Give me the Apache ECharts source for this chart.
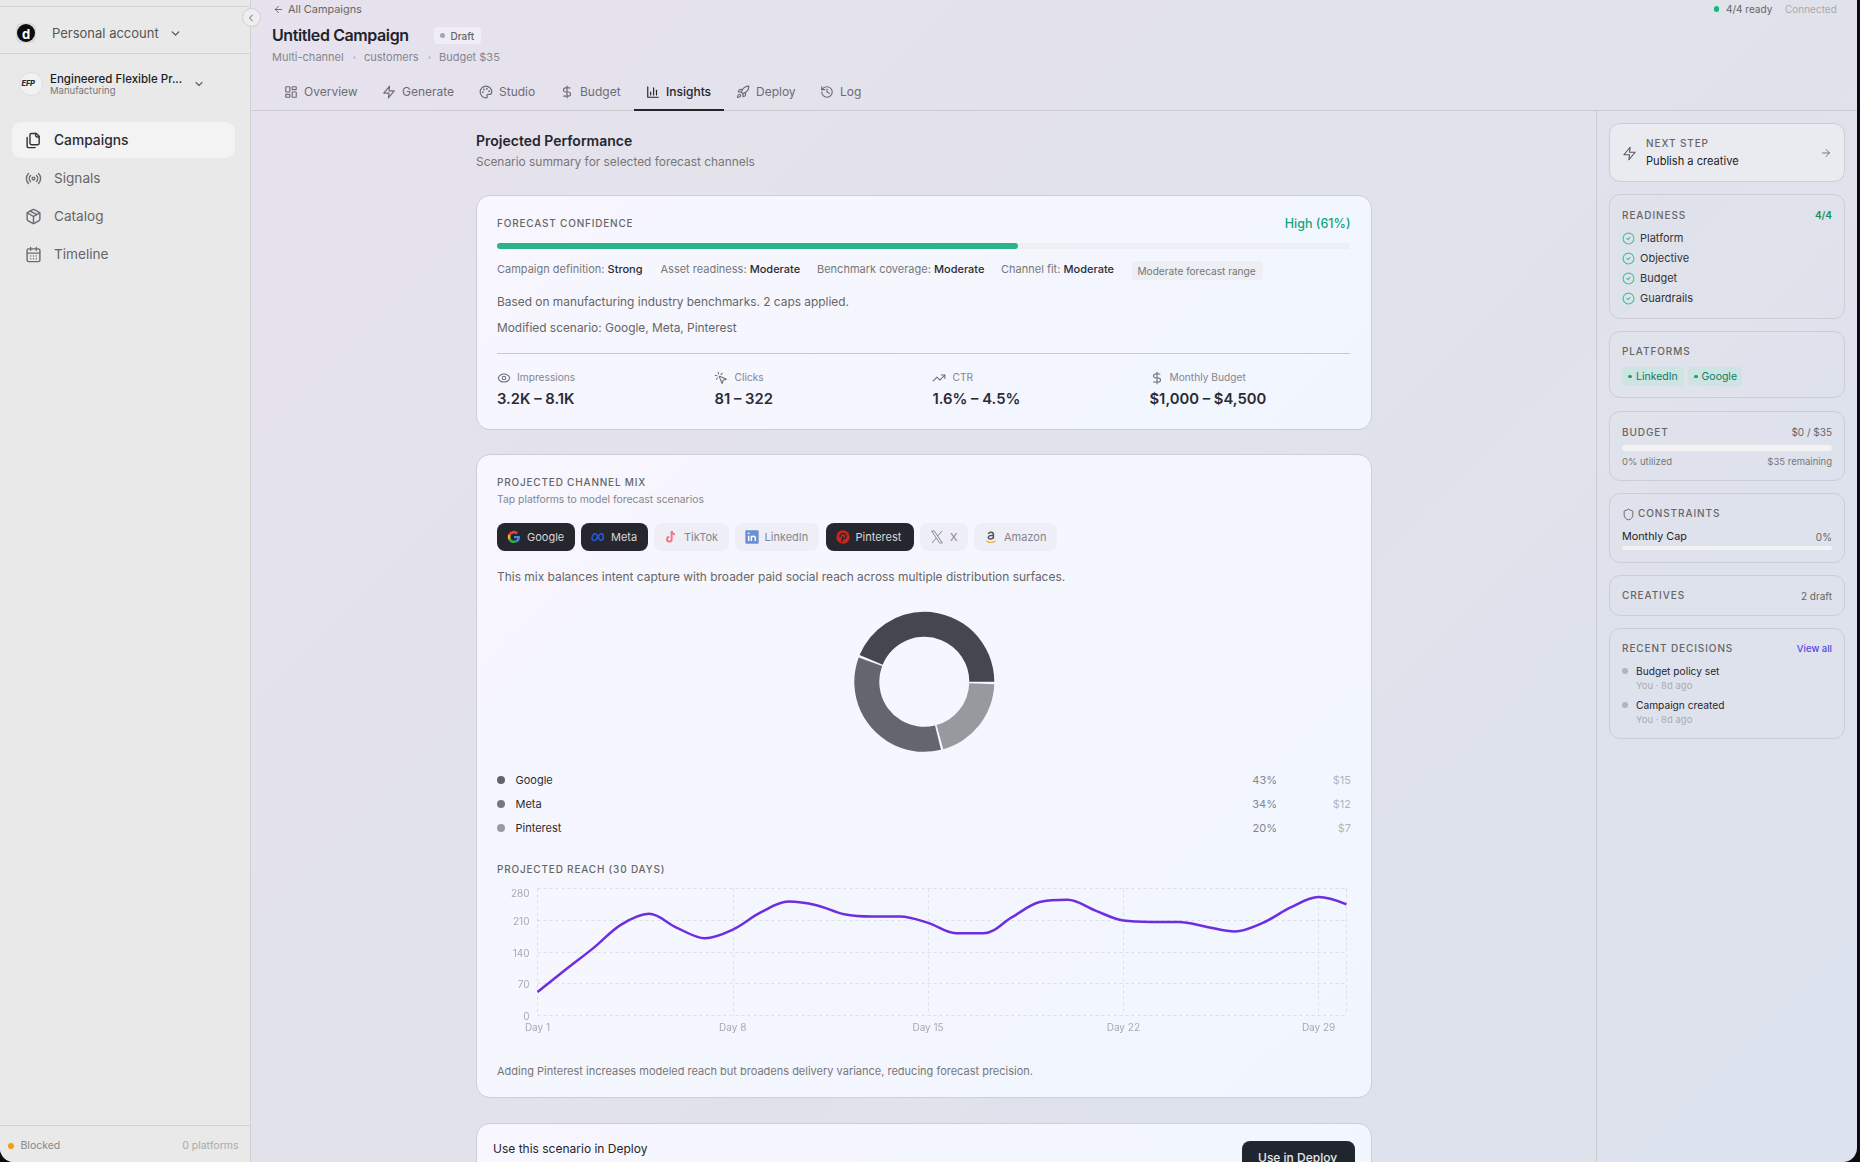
<!DOCTYPE html>
<html>
<head>
<meta charset="utf-8">
<title>Insights</title>
<script src="https://cdn.jsdelivr.net/npm/echarts@6/dist/echarts.min.js"></script>
<style>
html, body { margin: 0; width: 1860px; height: 1162px; background: #0c0c0e; overflow: hidden; }
body { font-family: Inter, "Noto Sans", sans-serif; }
#app { position: absolute; left: 0; top: 0; width: 1857px; height: 1162px; overflow: hidden; border-radius: 0 0 14px 14px; background: linear-gradient(135deg, #e8e2ef 0%, #e2e2ea 45%, #dce2ee 100%); }
#app div, #app svg { position: absolute; }
.t { white-space: nowrap; line-height: 1; transform: translateY(-50%); font-size: 11px; color: #666; }
.r { text-align: right; }
.cap { font-size: 10px; font-weight: 500; letter-spacing: .8px; color: #666; }
.b { color: #2b2b33; font-weight: 500; }
.card { box-sizing: border-box; left: 476px; width: 896px; border: 1px solid #cdced8; border-radius: 14px; background: linear-gradient(135deg, #f8f6fe, #f1f6fe); }
.side { box-sizing: border-box; left: 1609px; width: 236px; border: 1px solid #cdcdd2; border-radius: 11px; }
.ic { fill: none; stroke: currentColor; stroke-width: 2; stroke-linecap: round; stroke-linejoin: round; }
.chip { box-sizing: border-box; top: 523px; height: 28px; border-radius: 8px; background: #eeeef6; }
.chip.on { background: #26262e; }
</style>
</head>
<body>
<div id="app"></div>
<script>
// chart data
var channels = ["Google", "Meta", "Pinterest"];
var mixShare = [43, 34, 20];
var mixBudget = [15, 12, 7];
var sliceColors = ["#46464f", "#65656d", "#98989f"];
var dotColors = ["#62626c", "#77777f", "#9a9aa3"];

var reachDays = ["Day 1", "Day 2", "Day 3", "Day 4", "Day 5", "Day 6", "Day 7", "Day 8", "Day 9", "Day 10",
  "Day 11", "Day 12", "Day 13", "Day 14", "Day 15", "Day 16", "Day 17", "Day 18", "Day 19", "Day 20",
  "Day 21", "Day 22", "Day 23", "Day 24", "Day 25", "Day 26", "Day 27", "Day 28", "Day 29", "Day 30"];
var reachValues = [51, 100, 148, 200, 224, 193, 170, 189, 227, 251,
  243, 223, 218, 218, 204, 181, 181, 216, 250, 255,
  231, 209, 206, 206, 195, 185, 204, 238, 261, 245];
var reachTicks = [0, 70, 140, 210, 280];

// icons (stroke paths)
var icons = {
  grid: '<rect x="3" y="3" width="7" height="9" rx="1"/><rect x="14" y="3" width="7" height="5" rx="1"/><rect x="14" y="12" width="7" height="9" rx="1"/><rect x="3" y="16" width="7" height="5" rx="1"/>',
  zap: '<path d="M13 2 3 14h9l-1 8 10-12h-9l1-8z"/>',
  palette: '<path d="M12 22a10 10 0 1 1 10-10c0 2.8-2.2 4-4 4h-2.5a2 2 0 0 0-1.5 3.3c.6.8.2 2.7-2 2.7z"/><circle cx="13.5" cy="6.5" r=".6"/><circle cx="17.5" cy="10.5" r=".6"/><circle cx="6.5" cy="12.5" r=".6"/><circle cx="8.5" cy="7.5" r=".6"/>',
  dollar: '<path d="M12 2v20"/><path d="M17 5H9.5a3.5 3.5 0 0 0 0 7h5a3.5 3.5 0 0 1 0 7H6"/>',
  bars: '<path d="M3 3v18h18"/><path d="M8 17v-5"/><path d="M13 17V5"/><path d="M18 17V9"/>',
  rocket: '<path d="M4.5 16.5c-1.5 1.26-2 5-2 5s3.74-.5 5-2c.71-.84.7-2.13-.09-2.91a2.18 2.18 0 0 0-2.91-.09z"/><path d="m12 15-3-3a22 22 0 0 1 2-3.95A12.88 12.88 0 0 1 22 2c0 2.72-.78 7.5-6 11a22.35 22.35 0 0 1-4 2z"/><path d="M9 12H4s.55-3.03 2-4c1.62-1.08 5 0 5 0"/><path d="M12 15v5s3.03-.55 4-2c1.08-1.62 0-5 0-5"/>',
  history: '<path d="M3 12a9 9 0 1 0 9-9 9.75 9.75 0 0 0-6.74 2.74L3 8"/><path d="M3 3v5h5"/><path d="M12 7v5l4 2"/>',
  eye: '<path d="M2 12s3-7 10-7 10 7 10 7-3 7-10 7-10-7-10-7Z"/><circle cx="12" cy="12" r="3"/>',
  click: '<path d="M14 4.1 12 6"/><path d="m5.1 8-2.9-.8"/><path d="m6 12-1.9 2"/><path d="M7.2 2.2 8 5.1"/><path d="M9.037 9.69a.498.498 0 0 1 .653-.653l11 4.5a.5.5 0 0 1-.074.949l-4.349 1.041a1 1 0 0 0-.74.739l-1.04 4.35a.5.5 0 0 1-.95.074z"/>',
  trend: '<path d="M22 7 13.5 15.5 8.5 10.5 2 17"/><path d="M16 7h6v6"/>',
  files: '<path d="M20 7h-3a2 2 0 0 1-2-2V2"/><path d="M9 18a2 2 0 0 1-2-2V4a2 2 0 0 1 2-2h7l4 4v10a2 2 0 0 1-2 2Z"/><path d="M3 7.6v12.8A1.6 1.6 0 0 0 4.6 22h9.8"/>',
  radio: '<path d="M4.9 19.1C1 15.2 1 8.8 4.9 4.9"/><path d="M7.8 16.2c-2.3-2.3-2.3-6.1 0-8.5"/><circle cx="12" cy="12" r="2"/><path d="M16.2 7.8c2.3 2.3 2.3 6.1 0 8.5"/><path d="M19.1 4.9C23 8.8 23 15.1 19.1 19"/>',
  box: '<path d="M21 8a2 2 0 0 0-1-1.73l-7-4a2 2 0 0 0-2 0l-7 4A2 2 0 0 0 3 8v8a2 2 0 0 0 1 1.73l7 4a2 2 0 0 0 2 0l7-4A2 2 0 0 0 21 16Z"/><path d="M3.3 7 12 12l8.7-5"/><path d="M12 22V12"/><path d="m7.5 4.27 9 5.15"/>',
  cal: '<rect x="3" y="4" width="18" height="18" rx="2"/><path d="M16 2v4M8 2v4M3 10h18M8 14h.01M12 14h.01M16 14h.01M8 18h.01M12 18h.01M16 18h.01"/>',
  left: '<path d="m12 19-7-7 7-7"/><path d="M19 12H5"/>',
  right: '<path d="M5 12h14"/><path d="m12 5 7 7-7 7"/>',
  down: '<path d="m6 9 6 6 6-6"/>',
  back: '<path d="m15 18-6-6 6-6"/>',
  check: '<circle cx="12" cy="12" r="10"/><path d="m9 12 2 2 4-4"/>',
  shield: '<path d="M20 13c0 5-3.5 7.5-7.66 8.95a1 1 0 0 1-.67-.01C7.5 20.5 4 18 4 13V6a1 1 0 0 1 1-1c2 0 4.5-1.2 6.24-2.72a1.17 1.17 0 0 1 1.52 0C14.51 3.81 17 5 19 5a1 1 0 0 1 1 1z"/>'
};

// brand marks for the platform chips
var brands = {
  google: '<path d="M21 12.3c0-.7-.1-1.3-.2-1.9H12v3.6h5a4.3 4.3 0 0 1-1.9 2.8v2.3h3A9 9 0 0 0 21 12.3z" fill="#4285f4"/><path d="M12 21c2.4 0 4.5-.8 6.1-2.2l-3-2.3a5.6 5.6 0 0 1-8.3-2.9H3.7v2.4A9 9 0 0 0 12 21z" fill="#34a853"/><path d="M6.8 13.6a5.4 5.4 0 0 1 0-3.4V7.8H3.7a9 9 0 0 0 0 8.2z" fill="#fbbc05"/><path d="M12 6.6c1.3 0 2.5.5 3.4 1.3L18 5.3A9 9 0 0 0 3.7 7.8l3.1 2.4A5.4 5.4 0 0 1 12 6.6z" fill="#ea4335"/>',
  meta: '<path d="M3 15c0-4 2-8 4.5-8 3.5 0 5.5 10 9 10 2 0 3.5-1.5 3.5-4.5 0-3.5-1.7-5.5-3.7-5.5-3.3 0-5.3 10-9.3 10C5 17 3 16.5 3 15z" fill="none" stroke="#2456d8" stroke-width="2.4"/>',
  tiktok: '<path d="M13 3v12.5a3.5 3.5 0 1 1-3.5-3.5" fill="none" stroke="#f4717f" stroke-width="2.8"/><path d="M13 3c.3 3 2.2 4.8 5 5" fill="none" stroke="#f4717f" stroke-width="2.8"/>',
  linkedin: '<rect x="2" y="2" width="20" height="20" rx="1.5" fill="#6c8fd6"/><path d="M7 10v8M11 18v-8M11 13.5c0-3.5 6-4 6 .5v4" fill="none" stroke="#fff" stroke-width="2.2"/><circle cx="7" cy="6.5" r="1.4" fill="#fff"/>',
  pinterest: '<circle cx="12" cy="12" r="10" fill="#c9261c"/><path d="M10 20l2.2-10M8 12.5C6.5 9 9 6.5 12 6.5s5 2 4.5 5c-.4 2.5-2.5 4-4.5 3" fill="none" stroke="#26262e" stroke-width="2"/>',
  x: '<path d="M4 3h4l12 18h-4zM19.5 3 13 10.5M11 13.5 4.5 21" fill="none" stroke="#8a8a92" stroke-width="1.5"/>',
  amazon: '<path d="M8 7.5C8.5 5.8 10 5 12 5c2.5 0 3.6 1.2 3.6 3.3v6.2M15.6 9.5c-4.5 0-7.6.9-7.6 3.3 0 2.8 5.6 2.8 7.6-.3" fill="none" stroke="#555" stroke-width="2.2"/><path d="M5 18c4 2.6 10 2.6 14 0" fill="none" stroke="#f5a623" stroke-width="1.6"/>'
};

var html = "";
function box(x, y, w, h, css, cls) {
  html += '<div class="' + (cls || "") + '" style="left:' + x + "px;top:" + y + "px;width:" + w + "px;height:" + h + "px;" + (css || "") + '"></div>';
}
// text with its vertical centre at y
function text(x, y, str, css, cls) {
  html += '<div class="t ' + (cls || "") + '" style="left:' + x + "px;top:" + y + "px;" + (css || "") + '">' + str + "</div>";
}
// text whose right end sits at x
function textR(x, y, str, css, cls) {
  html += '<div class="t r ' + (cls || "") + '" style="right:' + (1857 - x) + "px;top:" + y + "px;" + (css || "") + '">' + str + "</div>";
}
function icon(cx, cy, size, name, color, sw) {
  html += '<svg class="ic" viewBox="0 0 24 24" style="left:' + (cx - size / 2) + "px;top:" + (cy - size / 2) + "px;width:" + size + "px;height:" + size + "px;color:" + color + ";stroke-width:" + (sw || 2) + '">' + icons[name] + "</svg>";
}
function brand(cx, cy, size, name) {
  html += '<svg viewBox="0 0 24 24" style="left:' + (cx - size / 2) + "px;top:" + (cy - size / 2) + "px;width:" + size + "px;height:" + size + 'px">' + brands[name] + "</svg>";
}
function dot(cx, cy, d, color) {
  box(cx - d / 2, cy - d / 2, d, d, "border-radius:50%;background:" + color);
}

// left sidebar
box(0, 0, 251, 1162, "background:#e9e9e9;border-right:1px solid #d2d2d4;box-sizing:border-box");
box(0, 6, 250, 1, "background:#d3d3d5");
box(0, 53, 250, 1, "background:#d3d3d5");
box(16, 23, 20, 20, "border-radius:6px;background:#d8d8da");
dot(26, 33, 18, "#0d0d0f");
text(22, 33.5, "d", "color:#fff;font-size:13px;font-weight:700");
text(52, 33, "Personal account", "font-size:13px;color:#555");
icon(175, 33, 13, "down", "#555", 2.4);
box(19, 72, 24, 24, "border-radius:50%;background:#f2f2f2;border:1px solid #dcdcdc;box-sizing:border-box");
text(21.5, 84, "EFP", "font-size:7.5px;font-weight:800;font-style:italic;color:#2a2a2e;letter-spacing:-.2px");
text(50, 79.5, "Engineered Flexible Pr...", "font-size:11.5px;font-weight:500;color:#1d1d24");
text(50, 91, "Manufacturing", "font-size:9.5px;color:#777");
icon(199, 83.5, 12, "down", "#666", 2.4);
box(12, 122, 223, 36, "background:#f3f3f3;border-radius:9px");
icon(33, 140, 17, "files", "#33333a");
text(54, 140.5, "Campaigns", "font-size:13.8px;font-weight:500;color:#2b2b33");
icon(33, 178, 17, "radio", "#6c6c74");
text(54, 178.5, "Signals", "font-size:13.6px;color:#666");
icon(33, 216, 17, "box", "#6c6c74");
text(54, 216.5, "Catalog", "font-size:13.6px;color:#666");
icon(33, 254, 17, "cal", "#6c6c74");
text(54, 254.5, "Timeline", "font-size:13.6px;color:#666");
box(0, 1125, 250, 1, "background:#d3d3d5");
dot(11, 1146, 6, "#f59e0b");
text(20.5, 1146, "Blocked", "font-size:10.5px;color:#888");
textR(238.5, 1146, "0 platforms", "font-size:10.5px;color:#aaa");
box(242, 8, 19, 19, "border-radius:50%;background:#eeeeef;border:1px solid #cfcfd2;box-sizing:border-box");
icon(251, 17.5, 12, "back", "#666");

// campaign header
icon(278, 9, 11, "left", "#666");
text(288, 9, "All Campaigns", "font-size:10.9px;color:#666");
text(272, 35, "Untitled Campaign", "font-size:16px;font-weight:600;color:#22222a;letter-spacing:-.4px");
box(434, 27, 47, 17, "background:#efedf5;border-radius:4px");
dot(442.5, 35.5, 5, "#a6a6b0");
text(450.5, 35.5, "Draft", "font-size:10px;font-weight:500;color:#666");
text(272, 57, "Multi-channel", "font-size:11px;color:#85858f");
dot(354, 57, 3, "#c6c6d0");
text(364, 57, "customers", "font-size:11px;color:#85858f");
dot(429, 57, 3, "#c6c6d0");
text(439, 57, "Budget $35", "font-size:11px;color:#85858f");
[["grid", 291, 304, "Overview"], ["zap", 389, 402, "Generate"], ["palette", 486, 499, "Studio"], ["dollar", 567, 580, "Budget"],
 ["bars", 653, 666, "Insights"], ["rocket", 743, 756, "Deploy"], ["history", 827, 840, "Log"]].forEach(function (tab) {
  var on = tab[3] == "Insights";
  icon(tab[1], 92, 14, tab[0], on ? "#25252c" : "#6c6c74");
  text(tab[2], 92, tab[3], "font-size:12px;" + (on ? "font-weight:500;color:#25252c" : "color:#6c6c74"));
});
box(251, 110, 1606, 1, "background:#cbcbd2");
box(634, 109, 90, 2, "background:#25252c");
dot(1716.5, 9, 5.5, "#10b981");
text(1726, 9, "4/4 ready", "font-size:10px;color:#666");
text(1785, 9, "Connected", "font-size:10px;color:#aaa");

// main column
text(476, 141, "Projected Performance", "font-size:14px;font-weight:600;color:#25252c");
text(476, 162, "Scenario summary for selected forecast channels", "font-size:11.9px;color:#777");

box(476, 195, 896, 235, "", "card");
text(497, 223, "FORECAST CONFIDENCE", "", "cap");
textR(1350.5, 223.5, "High (61%)", "font-size:12.5px;font-weight:500;color:#16a37b");
box(497, 243, 853, 6, "background:#eeeef5;border-radius:3px");
box(497, 243, 521, 6, "background:#2bb38a;border-radius:3px");
text(497, 269, 'Campaign definition: <span class="b">Strong</span>', "color:#777");
text(660.5, 269, 'Asset readiness: <span class="b">Moderate</span>', "color:#777");
text(817, 269, 'Benchmark coverage: <span class="b">Moderate</span>', "color:#777");
text(1001, 269, 'Channel fit: <span class="b">Moderate</span>', "color:#777");
box(1132, 261, 131, 19, "background:#eeeef5;border-radius:4px");
text(1137.5, 270.5, "Moderate forecast range", "font-size:10.1px;color:#777");
text(497, 301.5, "Based on manufacturing industry benchmarks. 2 caps applied.", "font-size:11.9px;color:#666");
text(497, 327.5, "Modified scenario: Google, Meta, Pinterest", "font-size:11.9px;color:#666");
box(497, 353, 853, 1, "background:#c9c9d2");
[["eye", 504, 517, "Impressions", 497, "3.2K – 8.1K"], ["click", 721, 734.5, "Clicks", 714.5, "81 – 322"],
 ["trend", 939, 952.5, "CTR", 932.5, "1.6% – 4.5%"], ["dollar", 1157, 1169.5, "Monthly Budget", 1149.5, "$1,000 – $4,500"]].forEach(function (m) {
  icon(m[1], 377.5, 14, m[0], "#6c6c74", 1.8);
  text(m[2], 377, m[3], "font-size:10.2px;color:#85858f");
  text(m[4], 398.5, m[5], "font-size:14.8px;font-weight:600;color:#2b2b33");
});

box(476, 454, 896, 644, "", "card");
text(497, 482, "PROJECTED CHANNEL MIX", "", "cap");
text(497, 499.5, "Tap platforms to model forecast scenarios", "font-size:10.4px;color:#85858f");
[["google", 497, 78, "Google", 513.5, 527, 1], ["meta", 580.5, 67.5, "Meta", 598, 611, 1], ["tiktok", 653.5, 75, "TikTok", 671, 684, 0],
 ["linkedin", 734.5, 84.5, "LinkedIn", 752, 764.5, 0], ["pinterest", 825.5, 88.5, "Pinterest", 843, 855.5, 1],
 ["x", 920, 48, "X", 937, 950, 0], ["amazon", 974, 83, "Amazon", 991, 1004, 0]].forEach(function (c) {
  box(c[1], 523, c[2], 28, "", c[6] ? "chip on" : "chip");
  brand(c[4], 537, 16, c[0]);
  text(c[5], 537, c[3], "font-size:11px;" + (c[6] ? "color:#d6d6da" : "color:#85858f"));
});
text(497, 577, "This mix balances intent capture with broader paid social reach across multiple distribution surfaces.", "font-size:11.95px;color:#666");

channels.forEach(function (name, i) {
  var y = 779.5 + 24 * i;
  dot(501, y + 0.5, 8, dotColors[i]);
  text(515.5, y, name, "font-size:11px;color:#2b2b33");
  textR(1277, y, mixShare[i] + "%", "font-size:11px;color:#85858f");
  textR(1351, y, "$" + mixBudget[i], "font-size:11px;color:#b4b4bd");
});

text(497, 869, "PROJECTED REACH (30 DAYS)", "", "cap");
text(497, 1070.5, "Adding Pinterest increases modeled reach but broadens delivery variance, reducing forecast precision.", "color:#777");

box(476, 1123, 896, 80, "", "card");
text(493, 1149, "Use this scenario in Deploy", "font-size:12px;color:#25252c");
box(1242, 1141, 113, 40, "background:#1f2630;border-radius:8px");
text(1258, 1157.5, "Use in Deploy", "font-size:12px;font-weight:500;color:#e8e8ea");

// right rail
box(1596, 110, 1, 1052, "background:#cbcbd2");
box(1609, 123, 236, 59, "background:rgba(255,255,255,.32)", "side");
icon(1629, 153, 15, "zap", "#55555c", 1.8);
text(1646, 143, "NEXT STEP", "letter-spacing:.9px", "cap");
text(1646, 161.5, "Publish a creative", "color:#1d1d24;font-size:11.1px");
icon(1826, 153, 12, "right", "#77777f");

box(1609, 194, 236, 125, "", "side");
text(1622, 214.5, "READINESS", "letter-spacing:.9px", "cap");
textR(1832, 214.5, "4/4", "font-size:10px;font-weight:600;color:#15905f");
["Platform", "Objective", "Budget", "Guardrails"].forEach(function (s, i) {
  icon(1628, 238 + 20 * i, 13, "check", "#3dc596");
  text(1640, 238 + 20 * i, s, "color:#33333a");
});

box(1609, 331, 236, 67, "", "side");
text(1622, 351, "PLATFORMS", "letter-spacing:.9px", "cap");
box(1622, 367, 62, 19, "background:#cde4e2;border-radius:4px");
dot(1630, 376.5, 3.5, "#10a374");
text(1636, 376.5, "LinkedIn", "font-size:10.5px;color:#0f7a62");
box(1688, 367, 54, 19, "background:#cde4e2;border-radius:4px");
dot(1696, 376.5, 3.5, "#10a374");
text(1701.5, 376.5, "Google", "font-size:10.5px;color:#0f7a62");

box(1609, 411, 236, 70, "", "side");
text(1622, 431.5, "BUDGET", "letter-spacing:.9px", "cap");
textR(1832, 431.5, "$0 / $35", "font-size:10px;color:#666");
box(1622, 445, 210, 6, "background:#f3f3f3;border-radius:3px");
text(1622, 462, "0% utilized", "font-size:9.5px;color:#777");
textR(1832, 462, "$35 remaining", "font-size:9.5px;color:#777");

box(1609, 493, 236, 70, "", "side");
icon(1628, 514, 13, "shield", "#66666d", 1.8);
text(1638, 513, "CONSTRAINTS", "letter-spacing:.9px", "cap");
text(1622, 536.5, "Monthly Cap", "color:#1d1d24;font-size:10.8px");
textR(1832, 536.5, "0%", "font-size:10px;color:#666");
box(1622, 546, 210, 4, "background:#f3f3f3;border-radius:2px");

box(1609, 575, 236, 41, "", "side");
text(1622, 595, "CREATIVES", "letter-spacing:.9px", "cap");
textR(1832, 595.5, "2 draft", "font-size:10px;color:#666");

box(1609, 628, 236, 111, "", "side");
text(1622, 648, "RECENT DECISIONS", "letter-spacing:.9px", "cap");
textR(1832, 648.5, "View all", "font-size:9.5px;font-weight:500;color:#4f46e5");
dot(1625, 671, 6, "#b4b4bc");
text(1636, 671, "Budget policy set", "font-size:10.2px;color:#26262c");
text(1636, 686, "You · 8d ago", "font-size:9.5px;color:#aaaab2");
dot(1625, 705, 6, "#b4b4bc");
text(1636, 705, "Campaign created", "font-size:10.2px;color:#26262c");
text(1636, 720, "You · 8d ago", "font-size:9.5px;color:#aaaab2");

html += '<div id="donut" style="left:844px;top:602px;width:160px;height:160px"></div>';
html += '<div id="reach" style="left:490px;top:880px;width:870px;height:160px"></div>';
document.getElementById("app").innerHTML = html;

var donutChart = echarts.init(document.getElementById("donut"));
donutChart.setOption({
  animation: false,
  series: [{
    type: "pie",
    center: [80.3, 79.8],
    radius: [45, 70],
    startAngle: -1,
    clockwise: false,
    padAngle: 2,
    label: { show: false },
    labelLine: { show: false },
    data: channels.map(function (name, i) {
      return { name: name, value: mixShare[i], itemStyle: { color: sliceColors[i] } };
    })
  }]
});

var gridDash = { color: "#dedee6", width: 1, type: [3, 3] };
var reachChart = echarts.init(document.getElementById("reach"));
reachChart.setOption({
  animation: false,
  textStyle: { fontFamily: "Inter" },
  grid: { left: 47.5, top: 8.5, width: 809, height: 126.5 },
  xAxis: {
    type: "category",
    boundaryGap: false,
    data: reachDays,
    axisLine: { show: false },
    axisTick: { show: false },
    axisLabel: {
      color: "#a9a9b5", fontSize: 10, margin: 8,
      interval: function (i) { return i % 7 == 0; }
    },
    splitLine: {
      show: true, lineStyle: gridDash,
      interval: function (i) { return i % 7 == 0 || i == 29; }
    }
  },
  yAxis: {
    type: "value",
    min: reachTicks[0],
    max: reachTicks[4],
    interval: reachTicks[1],
    axisLine: { show: false },
    axisTick: { show: false },
    axisLabel: {
      color: "#a9a9b5", fontSize: 10, margin: 8, verticalAlignMaxLabel: "top",
      // the top tick sits flush, the others a little under their lines
      formatter: function (v) { return v == reachTicks[4] ? "{top|" + v + "}" : "{mid|" + v + "}"; },
      rich: { top: { fontSize: 10, color: "#a9a9b5" }, mid: { fontSize: 10, color: "#a9a9b5", padding: [4, 0, 0, 0] } }
    },
    splitLine: { lineStyle: gridDash }
  },
  series: [{
    type: "line",
    data: reachValues,
    smooth: 0.35,
    showSymbol: false,
    lineStyle: { color: "#6d2ee0", width: 2.5 }
  }]
});
</script>
</body>
</html>
